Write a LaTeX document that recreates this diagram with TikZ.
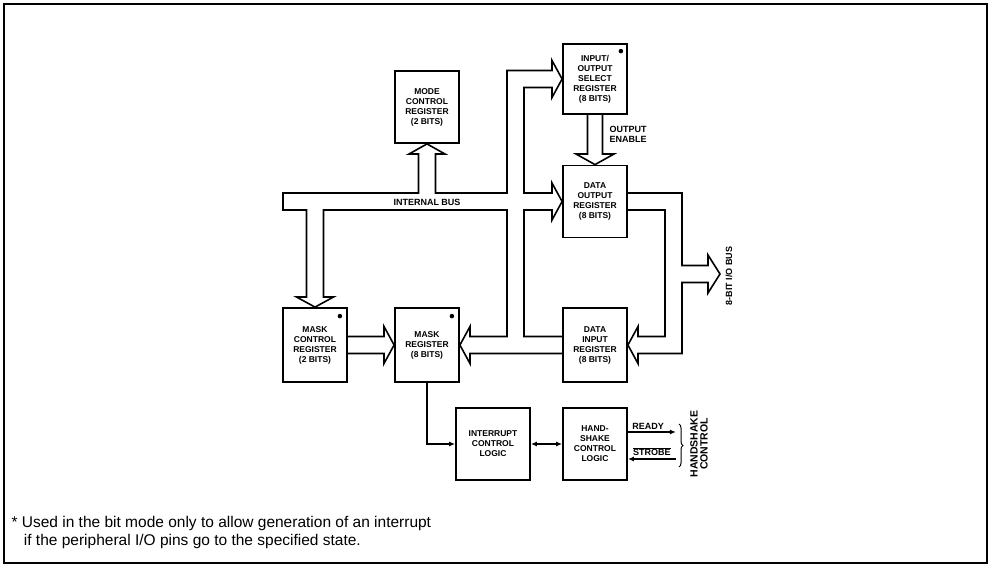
\documentclass[tikz,border=0pt]{standalone}
\usepackage{fontspec}
\usepackage{tikz}
\usetikzlibrary{arrows.meta, calc, decorations.pathreplacing}
\newfontfamily\lab{Liberation Sans}
\newfontfamily\notefont{Liberation Sans}
\tikzset{
  % register / logic block
  reg/.style={rectangle, draw, line width=1.8pt, minimum width=64pt, minimum height=72pt,
              inner sep=1pt, align=center, font=\lab\bfseries\fontsize{8.5}{10}\selectfont},
  % outline of a wide bus
  bus/.style={line width=1.6pt, line join=miter},
  ar/.style={-{Latex[length=6pt,width=5pt]}, line width=1.3pt},
  lbl/.style={font=\lab\bfseries\fontsize{9}{10}\selectfont},
  star/.style={circle, fill, inner sep=0pt, minimum size=4.5pt}
}

\begin{document}
\begin{tikzpicture}[x=1pt,y=-1pt]
    \useasboundingbox (0,0) rectangle (991,568);
    \draw[line width=1.2pt] (4,4) rectangle (987,563);

    % ---- registers ----
    \node[reg] (mode) at (427,107) {MODE\\CONTROL\\REGISTER\\(2 BITS)};
    \node[reg, minimum height=70pt] (iosr) at (595,79) {INPUT/\\OUTPUT\\SELECT\\REGISTER\\(8 BITS)};
    \node[reg] (dor) at (595,201.5) {DATA\\OUTPUT\\REGISTER\\(8 BITS)};
    \node[reg, minimum height=74pt] (mcr) at (315,345) {MASK\\CONTROL\\REGISTER\\(2 BITS)};
    \node[reg, minimum height=74pt] (mreg) at (427,345) {MASK\\REGISTER\\(8 BITS)};
    \node[reg, minimum height=74pt] (dir) at (595,345) {DATA\\INPUT\\REGISTER\\(8 BITS)};
    \node[reg, minimum width=74pt] (icl) at (493,444) {INTERRUPT\\CONTROL\\LOGIC};
    \node[reg] (hcl) at (595,444) {HAND-\\SHAKE\\CONTROL\\LOGIC};

    % bit mode markers
    \node[star] (s1) at ($(iosr.north east)+(-7,8)$) {};
    \node[star] (s2) at ($(mcr.north east)+(-8,9)$) {};
    \node[star] (s3) at ($(mreg.north east)+(-8,9)$) {};

    % ---- internal bus (one outline) ----
    \draw[bus] ($(dir.west)+(0,8.5)$) -- (470,353.5) -- (470,363.5) -- (mreg.east)
      -- (470,326.5) -- (470,336.5) -- (507,336.5) -- (507,210) -- (323.5,210)
      -- (323.5,297) -- (333.5,297) -- (mcr.north) -- (296.5,297) -- (306.5,297)
      -- (306.5,210) -- (283,210) -- (283,193) -- (418.5,193) -- (418.5,154)
      -- (409,154) -- (mode.south) -- (445,154) -- (435.5,154) -- (435.5,193)
      -- (507,193) -- (507,70.5) -- (552,70.5) -- (552,60.5) -- (iosr.west)
      -- (552,97.5) -- (552,87.5) -- (524,87.5) -- (524,193) -- (552,193)
      -- (552,183) -- (dor.west) -- (552,220) -- (552,210) -- (524,210)
      -- (524,336.5) -- ($(dir.west)+(0,-8.5)$);
    \node[lbl] (ib) at (427,202) {INTERNAL BUS};

    % output enable
    \draw[bus] ($(iosr.south)+(-7.5,0)$) -- (587.5,154) -- (576,154) -- (dor.north)
      -- (614,154) -- (602.5,154) -- ($(iosr.south)+(7.5,0)$);
    \node[lbl, anchor=west, align=left] (oe) at (606,134) {OUTPUT\\ENABLE};

    % mask control -> mask register
    \draw[bus] ($(mcr.east)+(0,-8.5)$) -- (384,336.5) -- (384,326.5) -- (mreg.west)
      -- (384,363.5) -- (384,353.5) -- ($(mcr.east)+(0,8.5)$);

    % ---- 8-bit I/O bus ----
    \coordinate (iob) at (720,274);
    \draw[bus] ($(dor.east)+(0,-8.5)$) -- (682,193) -- (682,265.5) -- (708,265.5)
      -- (708,255) -- (iob) -- (708,293) -- (708,282.5) -- (682,282.5) -- (682,353.5)
      -- (638,353.5) -- (638,363.5) -- (dir.east) -- (638,326.5) -- (638,336.5)
      -- (665,336.5) -- (665,210) -- ($(dor.east)+(0,8.5)$);
    \node[lbl, rotate=90] (iolbl) at (729,276) {8-BIT I/O BUS};

    % ---- interrupt / handshake ----
    \draw[ar] (mreg.south) |- (icl.west);
    \draw[ar, {Latex[length=6pt,width=5pt]}-{Latex[length=6pt,width=5pt]}] (icl) -- (hcl);
    \coordinate (rdy) at ($(hcl.east)+(48,-12)$);
    \coordinate (stb) at ($(hcl.east)+(48,15)$);
    \draw[ar] (hcl.east |- rdy) -- node[lbl, above=-1pt, pos=0.42] {READY} (rdy);
    \draw[ar] (stb) -- node[lbl, above=-1pt, pos=0.5] {$\overline{\hbox{STROBE}}$} (hcl.east |- stb);
    \draw[decorate, decoration={brace, amplitude=4pt}, line width=1pt] (679,424) -- (679,467);
    \node[lbl, rotate=90, align=center, font=\lab\bfseries\fontsize{10.5}{10}\selectfont] (hsk) at (699,444) {HANDSHAKE\\CONTROL};

    % footnote
    \node[anchor=west, align=left, font=\notefont\fontsize{15.5}{18}\selectfont] (note) at (8,532)
      {* Used in the bit mode only to allow generation of an interrupt\\
       \hspace*{0.8em}if the peripheral I/O pins go to the specified state.};
  \end{tikzpicture}
\end{document}
